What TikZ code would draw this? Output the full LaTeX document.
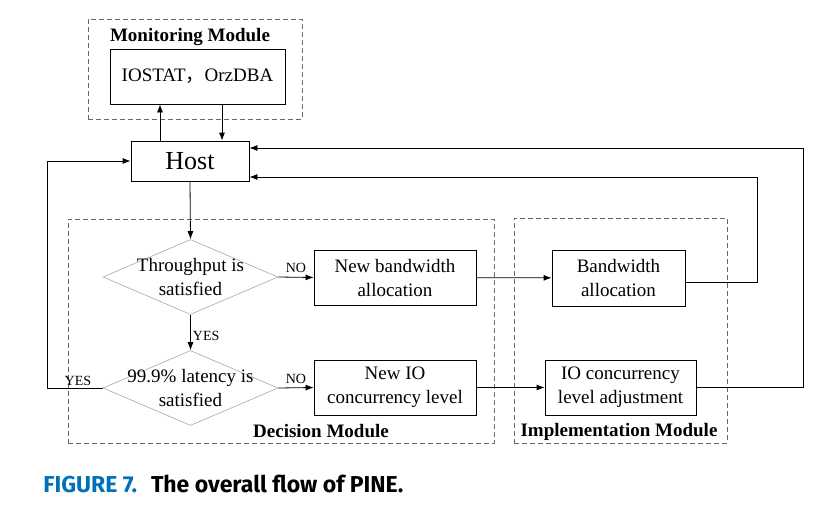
\documentclass[tikz,border=0pt]{standalone}
\usepackage{fontspec}
\setmainfont{Liberation Serif}
\newfontfamily\cjk{Noto Sans CJK SC}
\newfontfamily\capfont{Fira Sans}
\usetikzlibrary{positioning,arrows.meta,shapes.geometric}
\definecolor{capblue}{RGB}{0,112,186}

\begin{document}
\begin{tikzpicture}[x=1pt, y=-1pt, >={Latex[length=8pt,width=6pt]}, line width=0.8pt,
  txt/.style={font=\fontsize{19}{24}\selectfont},
  blk/.style={draw, align=center, inner sep=0pt, txt},
  dec/.style={diamond, draw=gray!70, line width=0.6pt, minimum width=175pt, minimum height=75pt, inner sep=0pt},
  grp/.style={draw=gray!80!black, dash pattern=on 5pt off 3pt, inner sep=0pt},
  ttl/.style={font=\fontsize{19}{24}\selectfont\bfseries},
  lbl/.style={font=\fontsize{14}{16}\selectfont, inner sep=2pt}
]
  \useasboundingbox (0,0) rectangle (840,519);
  \node[grp, minimum width=214pt, minimum height=100pt] (monbox) at (195,69) {};
  \node[ttl] (montitle) at (190,37) {Monitoring Module};
  \node[blk, minimum width=175pt, minimum height=55pt] (mon) at (197.5,76.5) {IOSTAT{\cjk ，}OrzDBA};
  \node[blk, minimum width=118pt, minimum height=40pt, font=\fontsize{26}{30}\selectfont] (host) at (190,161) {Host};

  \node[grp, minimum width=426pt, minimum height=224pt] (decbox) at (281,331) {};
  \node[ttl] (dectitle) at (321,431) {Decision Module};
  \node[grp, minimum width=213pt, minimum height=225pt] (impbox) at (620.5,330.5) {};
  \node[ttl] (imptitle) at (619,432) {Implementation Module};

  \node[dec] (d1) at (190.5,277) {};
  \node[txt, align=center] (d1t) at (d1) {Throughput is\\satisfied};
  \node[dec] (d2) at (190.5,388) {};
  \node[txt, align=center] (d2t) at (d2) {99.9\% latency is\\satisfied};
  \node[blk, minimum width=162pt, minimum height=55pt] (nbw) at (395,277.5) {New bandwidth\\allocation};
  \node[blk, minimum width=162pt, minimum height=55pt] (nio) at (395,387.5) {New IO\\concurrency level};
  \node[blk, minimum width=133pt, minimum height=56pt] (bw) at (618.5,278) {Bandwidth\\allocation};
  \node[blk, minimum width=151pt, minimum height=55pt] (adj) at (620.5,387.5) {IO concurrency\\level adjustment};

  \coordinate (rA) at (757,177);
  \coordinate (rB) at (803,148);

  \draw[->] ([xshift=-30pt]host.north) -- ([xshift=-30pt]host.north |- mon.south);
  \draw[->] ([xshift=32pt]host.north |- mon.south) -- ([xshift=32pt]host.north);
  \draw[->] (host.south) -- (d1.north);
  \draw[->] (d1.east) -- node[lbl, above, yshift=2pt]{NO} (nbw.west);
  \draw[->] (d1.south) -- node[lbl, right, pos=0.6]{YES} (d2.north);
  \draw[->] (d2.east) -- node[lbl, above, yshift=2pt]{NO} (nio.west);
  \draw[->] (nbw) -- (bw);
  \draw[->] (nio) -- (adj);
  \draw[->] (d2.west) -- node[lbl, above, pos=0.45]{YES} ++(-55,0) |- (host.west);
  \draw[->] ([yshift=-4pt]bw.east) -| (rA) -- (rA -| host.east);
  \draw[->] (adj.east) -| (rB) -- (rB -| host.east);

  \node[anchor=west, inner sep=0pt, font=\capfont\bfseries\fontsize{23}{27}\selectfont] (cap) at (43,484) {\textcolor{capblue}{FIGURE 7.}\hspace{0.6em}The overall flow of PINE.};
\end{tikzpicture}
\end{document}
